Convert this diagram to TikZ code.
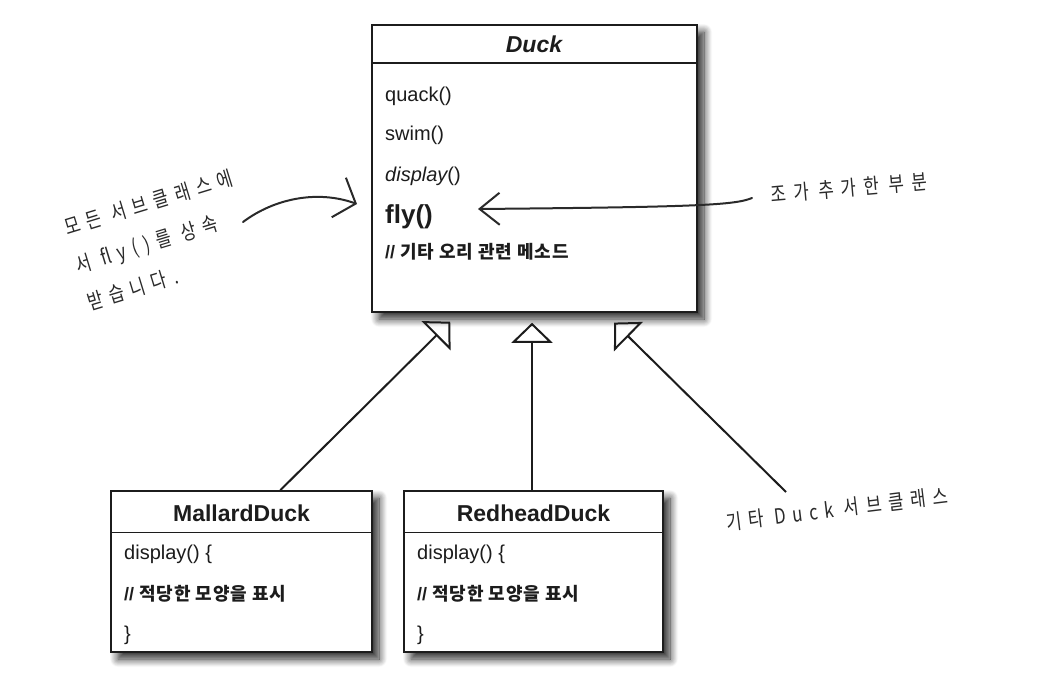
\documentclass[tikz,border=0pt]{standalone}
\usepackage{fontspec}
\setmainfont{Liberation Sans}
\newfontfamily\kr{Noto Sans CJK KR}[LetterSpace=5]
\newfontfamily\hand{Noto Sans CJK KR}[FakeStretch=0.8,LetterSpace=32]
\usetikzlibrary{arrows.meta,calc,shadows.blur}
\definecolor{ink}{HTML}{1C1C1C}
\definecolor{pen}{HTML}{2A2A2A}
\newcommand\mfont{\fontsize{20pt}{24pt}\selectfont}
\newcommand\hfont{\bfseries\fontsize{23pt}{27pt}\selectfont}
\newcommand\cfont{\fontsize{18pt}{20pt}\selectfont}
\newcommand\handfont{\hand\fontsize{21pt}{39pt}\selectfont}
\begin{document}
\begin{tikzpicture}[x=1pt,y=-1pt,
  cls/.style={draw=ink,line width=1.5pt,fill=white,rectangle,inner sep=0pt,
    blur shadow={shadow xshift=7pt,shadow yshift=-7pt,shadow blur radius=8pt,shadow opacity=85,shadow blur steps=12}},
  sep/.style={draw=ink,line width=1.5pt},
  txt/.style={anchor=base west,inner sep=0pt,text=ink},
  ttl/.style={anchor=base,inner sep=0pt,text=ink},
  inherit/.style={draw=ink,line width=2pt,-{Triangle[open,length=20pt,width=41pt,line width=2pt]}},
  note/.style={inner sep=0pt,text=pen,font=\handfont},
  handarrow/.style={draw=pen,line width=2pt,line cap=round}
]
\useasboundingbox (0,0) rectangle (1064,698);

% classes
\node[cls,minimum width=325pt,minimum height=287pt] (duck) at (534.5,168.5) {};
\node[cls,minimum width=261pt,minimum height=161pt] (mallard) at (241.5,571.5) {};
\node[cls,minimum width=259pt,minimum height=161pt] (redhead) at (533.5,571.5) {};

\draw[sep] ($(duck.north west)+(0,39)$) -- ($(duck.north east)+(0,39)$);
\draw[sep] ($(mallard.north west)+(0,42)$) -- ($(mallard.north east)+(0,42)$);
\draw[sep] ($(redhead.north west)+(0,42)$) -- ($(redhead.north east)+(0,42)$);

% Duck texts
\node[ttl] (duckname) at (534,53) {\hfont\itshape Duck};
\node[txt] (m1) at (385,102) {\mfont quack()};
\node[txt] (m2) at (385,140) {\mfont swim()};
\node[txt] (m3) at (385,181) {\mfont\itshape display\upshape()};
\node[txt] (m4) at (385,223) {\bfseries\fontsize{26pt}{30pt}\selectfont fly()};
\node[txt] (m5) at (385,258) {\cfont\bfseries // {\kr 기타 오리 관련 메소드}};

% Mallard texts
\node[ttl] (mname) at (241.5,521) {\hfont MallardDuck};
\node[txt] (ma1) at (124,559) {\mfont display() \{};
\node[txt] (ma2) at (124,600) {\cfont\bfseries // {\kr 적당한 모양을 표시}};
\node[txt] (ma3) at (124,640) {\mfont \}};

% Redhead texts
\node[ttl] (rname) at (533.5,521) {\hfont RedheadDuck};
\node[txt] (ra1) at (417,559) {\mfont display() \{};
\node[txt] (ra2) at (417,600) {\cfont\bfseries // {\kr 적당한 모양을 표시}};
\node[txt] (ra3) at (417,640) {\mfont \}};

% inheritance
\coordinate (mtop) at ($(mallard.north west)+(170,0)$);
\coordinate (ltip) at ($(duck.south west)+(88,0)$);
\coordinate (rtop) at ($(redhead.north)+(-1.5,0)$);
\coordinate (rtip) at ($(duck.south west)+(233,0)$);
\draw[inherit,shorten >=12.7pt] (mtop) -- (ltip);
\draw[inherit,shorten >=10pt] (rtop) -- (rtop |- duck.south);
\coordinate (other) at (786,492);
\draw[inherit,shorten >=14pt] (other) -- (rtip);

% annotations
\node[note,rotate=17,align=left] (lnote) at (160,240) {모든 서브클래스에\\서 fly()를 상속\\받습니다.};
\node[note,rotate=5] (rnote) at (849,188) {조가 추가한 부분};
\node[note,rotate=7] (onote) at (837,509) {기타 Duck 서브클래스};

\coordinate (la0) at (243,222);
\coordinate (la1) at (357,204);
\draw[handarrow,-{Straight Barb[length=18pt,width=42pt,line width=2pt]}]
  (la0) .. controls (275,198) and (318,190) .. (la1);

\coordinate (ra0) at (752,198);
\coordinate (ra1) at (478,209);
\draw[handarrow,-{Straight Barb[length=20pt,width=32pt,line width=2pt]}]
  (ra0) .. controls (735,205) and (700,207) .. (ra1);
\end{tikzpicture}
\end{document}
